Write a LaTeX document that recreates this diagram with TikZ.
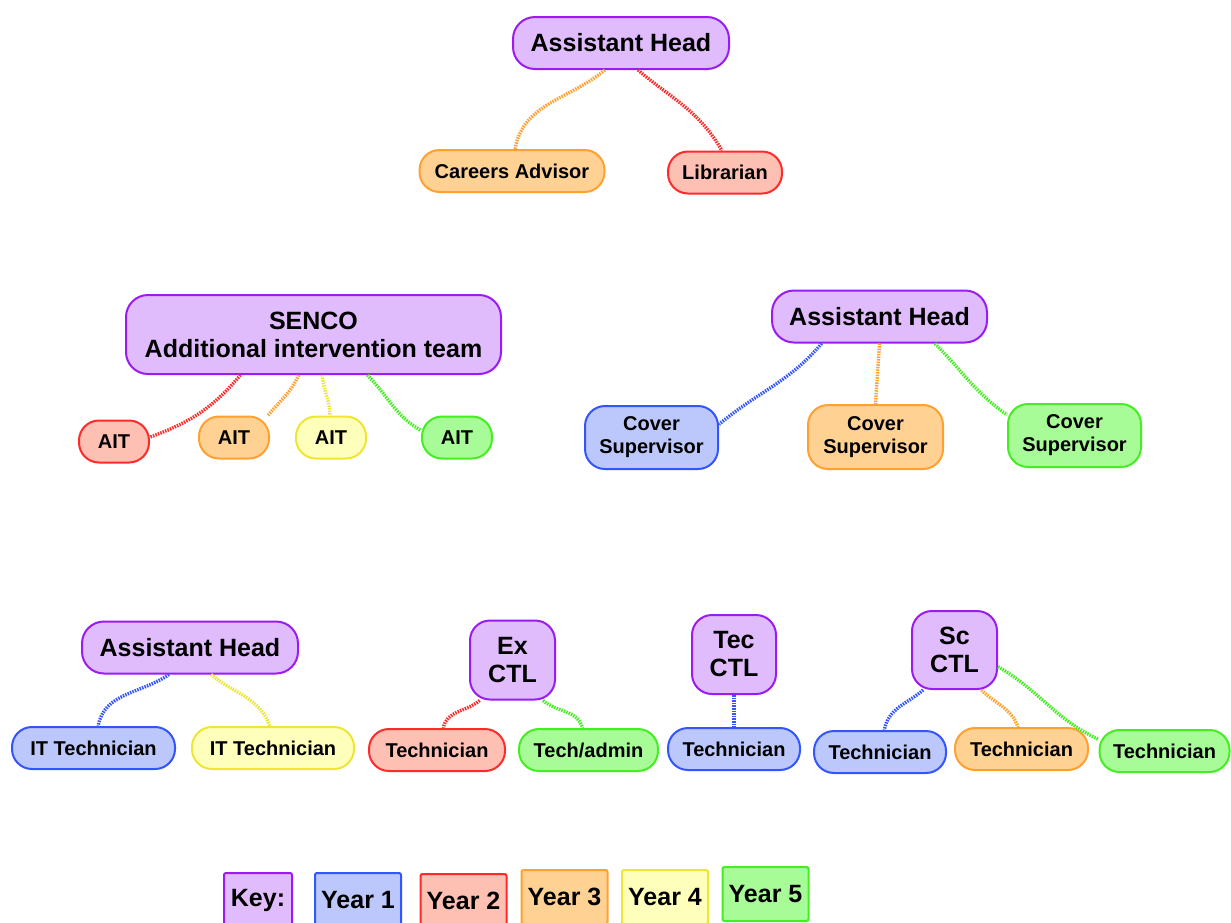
\documentclass[tikz,border=0pt]{standalone}
\usepackage{fontspec}
\setmainfont{Liberation Sans}
\definecolor{leadfill}{HTML}{E0BCFC}
\definecolor{leaddraw}{HTML}{9B1CF2}
\definecolor{bluefill}{HTML}{BCC8FC}
\definecolor{bluedraw}{HTML}{3355FF}
\definecolor{redfill}{HTML}{FFC0B4}
\definecolor{reddraw}{HTML}{FF2A2A}
\definecolor{orangefill}{HTML}{FFD294}
\definecolor{orangedraw}{HTML}{FFA030}
\definecolor{yellowfill}{HTML}{FFFFBC}
\definecolor{yellowdraw}{HTML}{EEE633}
\definecolor{greenfill}{HTML}{A8FC98}
\definecolor{greendraw}{HTML}{44EE22}

\begin{document}
\begin{tikzpicture}[
        x=0.5pt, y=-0.5pt,
        post/.style={draw, line width=1pt, rounded corners=10pt, inner sep=0pt, align=center, minimum height=21pt, font=\bfseries\fontsize{10}{11.5}\selectfont},
        head/.style={post, draw=leaddraw, fill=leadfill, rounded corners=11pt, minimum height=26pt, font=\bfseries\fontsize{12.5}{14}\selectfont},
        ctl/.style={head, rounded corners=10pt, minimum width=42.5pt, minimum height=39.5pt},
        yrone/.style={draw=bluedraw, fill=bluefill},
        yrtwo/.style={draw=reddraw, fill=redfill},
        yrthree/.style={draw=orangedraw, fill=orangefill},
        yrfour/.style={draw=yellowdraw, fill=yellowfill},
        yrfive/.style={draw=greendraw, fill=greenfill},
        keybox/.style={draw, line width=1pt, rounded corners=1pt, inner sep=0pt, anchor=north, minimum height=27pt, minimum width=43pt, font=\bfseries\fontsize{12.5}{14}\selectfont},
        link/.style={line width=1.7pt, dash pattern=on 0.75pt off 0.55pt}
    ]
        \clip (0,0) rectangle (1231,922);
        \fill[white] (0,0) rectangle (1231,922);

        % Top group
        \node[head, minimum width=108pt] (ahtop) at (621,43) {Assistant Head};
        \node[post, yrthree, minimum width=92.5pt] (careers) at (512,171) {Careers Advisor};
        \node[post, yrtwo, minimum width=57pt] (librarian) at (725,172.5) {Librarian};

        % SENCO group
        \node[head, minimum width=187.5pt, minimum height=39.5pt] (senco) at (313.5,334.5) {SENCO\\Additional intervention team};
        \node[post, yrtwo, minimum width=35pt] (aitone) at (114,441.5) {AIT};
        \node[post, yrthree, minimum width=35pt] (aittwo) at (234,437.5) {AIT};
        \node[post, yrfour, minimum width=35pt] (aitthree) at (331,437.5) {AIT};
        \node[post, yrfive, minimum width=35pt] (aitfour) at (457,437.5) {AIT};

        % Cover group
        \node[head, minimum width=107.5pt] (ahcover) at (879.5,316.5) {Assistant Head};
        \node[post, yrone, minimum width=66.5pt, minimum height=31.5pt] (coverone) at (651.5,437.5) {\raisebox{-1.5pt}{Cover}\\\raisebox{-1.5pt}{Supervisor}};
        \node[post, yrthree, minimum width=67.5pt, minimum height=32pt] (covertwo) at (875.5,437) {\raisebox{-1.5pt}{Cover}\\\raisebox{-1.5pt}{Supervisor}};
        \node[post, yrfive, minimum width=66.5pt, minimum height=31.5pt] (coverthree) at (1074.5,435.5) {\raisebox{-1.5pt}{Cover}\\\raisebox{-1.5pt}{Supervisor}};

        % IT group
        \node[head, minimum width=108pt] (ahit) at (190,647.5) {Assistant Head};
        \node[post, yrone, minimum width=81.5pt] (itone) at (93.5,748) {IT Technician};
        \node[post, yrfour, minimum width=81pt] (ittwo) at (273,748) {IT Technician};

        % CTL groups
        \node[ctl] (exctl) at (512.5,660) {Ex\\CTL};
        \node[post, yrtwo, minimum width=68pt] (extech) at (437,750) {Technician};
        \node[post, yrfive, minimum width=69.5pt] (exadmin) at (588.5,750) {Tech/admin};

        \node[ctl, minimum width=42pt] (tecctl) at (734,654.5) {Tec\\CTL};
        \node[post, yrone, minimum width=66pt] (tectech) at (734,749) {Technician};

        \node[ctl, minimum height=39pt] (scctl) at (954.5,650) {Sc\\CTL};
        \node[post, yrone, minimum width=66pt] (sctechone) at (880,752) {Technician};
        \node[post, yrthree, minimum width=66.5pt] (sctechtwo) at (1021.5,749) {Technician};
        \node[post, yrfive, minimum width=65pt] (sctechthree) at (1164.5,751) {Technician};

        % Key
        \node[keybox, draw=leaddraw, fill=leadfill, minimum width=34pt] (keyhead) at (258,872) {Key:};
        \node[keybox, yrone] (keyone) at (358,872) {Year 1};
        \node[keybox, yrtwo] (keytwo) at (463.5,873) {Year 2};
        \node[keybox, yrthree] (keythree) at (564.5,869) {Year 3};
        \node[keybox, yrfour] (keyfour) at (665,869) {Year 4};
        \node[keybox, yrfive] (keyfive) at (765.5,866) {Year 5};

        % Connectors
        \draw[link, orangedraw] (ahtop.-121) to[out=-140, in=80] (careers.82);
        \draw[link, reddraw] (ahtop.-58) to[out=-40, in=120] (librarian.98);

        \draw[link, reddraw] (senco.-151) to[out=-130, in=20] (aitone.7);
        \draw[link, orangedraw] (senco.-110) to[out=-115, in=50] (aittwo.33);
        \draw[link, yellowdraw] (senco.-78) to[out=-85, in=90] (aitthree.93);
        \draw[link, greendraw] (senco.-37) to[out=-45, in=150] (aitfour.169);

        \draw[link, bluedraw] (ahcover.-155) to[out=-130, in=40] (coverone.11);
        \draw[link, orangedraw] (ahcover.-90) -- (covertwo.90);
        \draw[link, greendraw] (ahcover.-26) to[out=-45, in=145] (coverthree.163);

        \draw[link, bluedraw] (ahit.-128) to[out=-145, in=80] (itone.78);
        \draw[link, yellowdraw] (ahit.-52) to[out=-40, in=110] (ittwo.98);

        \draw[link, reddraw] (exctl.-129) to[out=-140, in=80] (extech.74);
        \draw[link, greendraw] (exctl.-53) to[out=-40, in=105] (exadmin.105);

        \draw[link, bluedraw] (tecctl.south) -- (tectech.north);

        \draw[link, bluedraw] (scctl.-128) to[out=-140, in=80] (sctechone.79);
        \draw[link, orangedraw] (scctl.-56) to[out=-45, in=110] (sctechtwo.99);
        \draw[link, greendraw] (scctl.-21) to[out=-30, in=155] (sctechthree.170);
    \end{tikzpicture}
\end{document}
